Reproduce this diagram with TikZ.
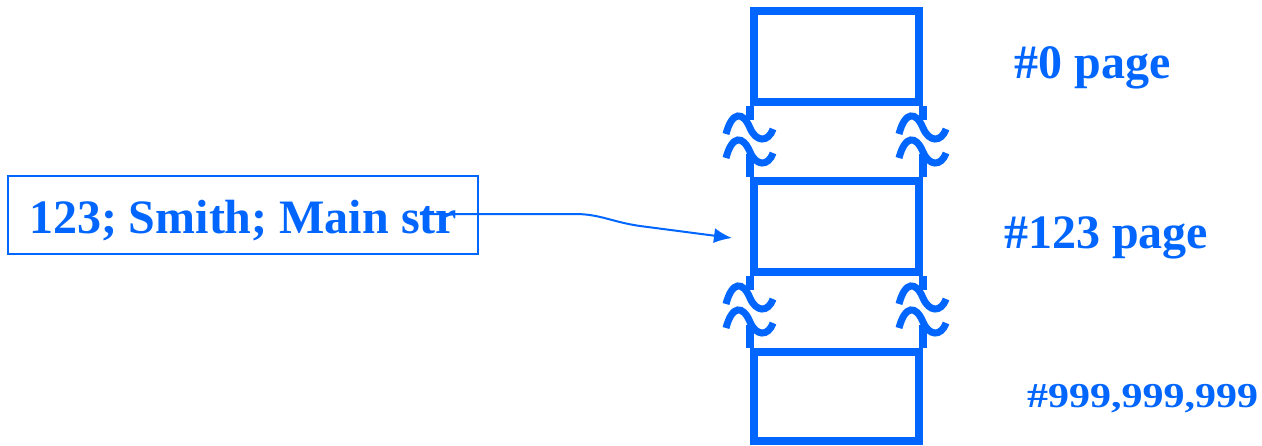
\documentclass[tikz,border=0pt]{standalone}
\usepackage{fontspec}
\setmainfont{Liberation Serif}
\usetikzlibrary{arrows.meta}
\definecolor{pageblue}{RGB}{0,102,255}

\begin{document}
\begin{tikzpicture}
        [x=1pt, y=-1pt,
        pstyle/.style={rectangle, draw=pageblue, line width=8pt, inner sep=0pt, minimum width=165pt, minimum height=91pt},
        sstyle/.style={draw=pageblue, line width=8pt},
        wstyle/.style={draw=pageblue, line width=7pt},
        bstyle/.style={rectangle, draw=pageblue, line width=2.5pt, inner sep=0pt, minimum width=470pt, minimum height=78pt,
            text=pageblue, font=\fontsize{48}{58}\selectfont\bfseries, text height=36pt, text depth=0pt},
        lstyle/.style={text=pageblue, font=\fontsize{48}{58}\selectfont\bfseries, anchor=base, inner sep=0pt},
        astyle/.style={-{Latex[length=18pt, width=15pt]}, draw=pageblue, line width=2pt}]

        \useasboundingbox (0,0) rectangle (1262,445);

        \node[pstyle] (page0)   at (836.5,56.5)  {};
        \node[pstyle] (page123) at (836.5,226.5) {};
        \node[pstyle, minimum height=89pt] (pageN) at (836.5,396.5) {};

        \foreach \a/\b in {page0/page123, page123/pageN}
            \foreach \c in {west, east} {
                \draw[sstyle] (\a.south \c) -- ++(0,14);
                \draw[sstyle] (\b.north \c) -- ++(0,-23);
                \foreach \d in {22, 46}
                    \draw[wstyle, shift={(\a.south \c)}, xshift=-1pt, yshift=-\d pt]
                        (-23,6) .. controls (-17,-17) and (-6,-17) .. (1,0)
                        .. controls (7,14) and (19,15) .. (24,1);
            }

        \node[lstyle] (lab0)   at (1092.5,78)  {\#0 page};
        \node[lstyle] (lab123) at (1106,248)   {\#123 page};
        \node[lstyle, font=\fontsize{35}{42}\selectfont\bfseries, xscale=1.2, transform shape] (labN) at (1142.5,407) {\#999,999,999};

        \node[bstyle] (rec) at (243,215) {123; Smith; Main str};

        \coordinate (src) at (420,214);
        \coordinate (dst) at (732,238);
        \draw[astyle] (src) -- ++(155,0) .. controls +(25,0) and +(-28,-4) .. ++(65,12) -- (dst);
    \end{tikzpicture}
\end{document}
